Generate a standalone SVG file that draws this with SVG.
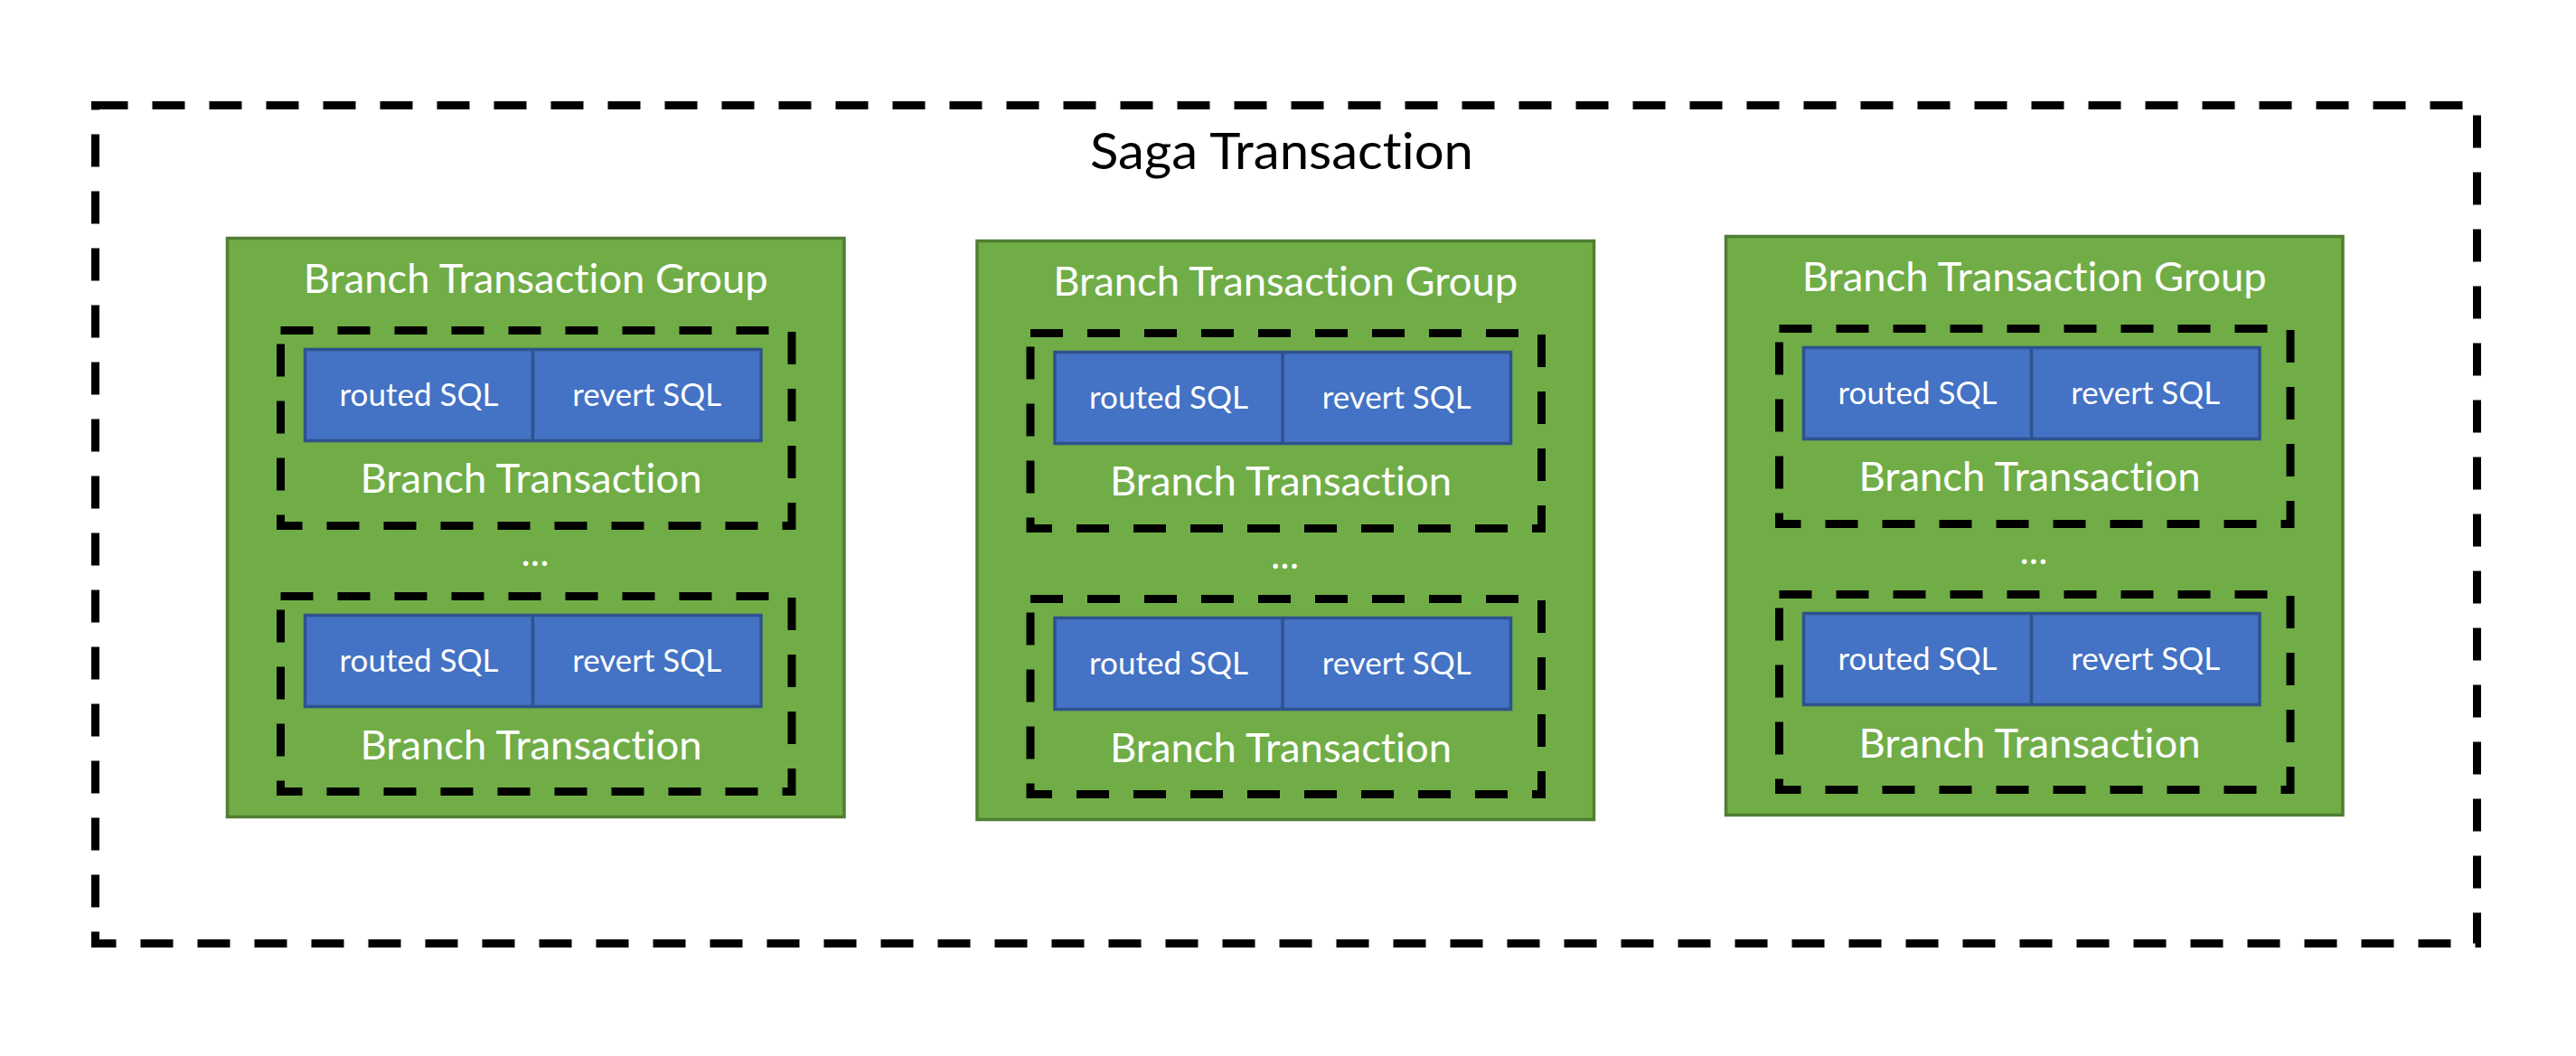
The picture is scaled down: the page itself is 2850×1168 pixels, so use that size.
<svg xmlns="http://www.w3.org/2000/svg" width="2850" height="1168" viewBox="0 0 2850 1168">
<style>
.bg{fill:#ffffff}
.outer{fill:none;stroke:#000;stroke-width:9;stroke-dasharray:36 27}
.grp{fill:#70AD47;stroke:#507E32;stroke-width:3.5}
.dash{fill:none;stroke:#000;stroke-width:9;stroke-dasharray:36 27}
.blue{fill:#4472C4;stroke:#2F528F;stroke-width:3.5}
.div{stroke:#2F528F;stroke-width:3.5}
text{font-variant-ligatures:none}
.w{fill:#fff;font-family:Lato,"Open Sans","Liberation Sans",sans-serif;text-anchor:middle}
.t48{font-size:44px}
.t38{font-size:35px}
.saga{fill:#000;font-family:Lato,"Open Sans","Liberation Sans",sans-serif;font-size:56px;text-anchor:middle}
</style>
<rect class="bg" x="0" y="0" width="2850" height="1168"/>
<g id="saga-transaction">
<rect class="outer" x="105.5" y="116.5" width="2635" height="927"/>
<text class="saga" x="1418" y="186.5" textLength="424" lengthAdjust="spacingAndGlyphs">Saga Transaction</text>
</g>
<g id="group-1">
<rect class="grp" x="251.5" y="263.5" width="682.5" height="640"/>
<text class="w t48" x="592.75" y="323.5" textLength="514" lengthAdjust="spacingAndGlyphs">Branch Transaction Group</text>
<g id="group-1-branch-1">
<rect class="dash" x="310.5" y="365.5" width="565.5" height="216"/>
<rect class="blue" x="337.5" y="386.5" width="504.5" height="101"/>
<line class="div" x1="589.5" y1="386.5" x2="589.5" y2="487.5"/>
<text class="w t38" x="463.5" y="449.3" textLength="176" lengthAdjust="spacingAndGlyphs">routed SQL</text>
<text class="w t38" x="715.7" y="449.3" textLength="165" lengthAdjust="spacingAndGlyphs">revert SQL</text>
<text class="w t48" x="587.5" y="545" textLength="378" lengthAdjust="spacingAndGlyphs">Branch Transaction</text>
</g>
<text class="w t48" x="592" y="626">...</text>
<g id="group-1-branch-2">
<rect class="dash" x="310.5" y="659.5" width="565.5" height="216"/>
<rect class="blue" x="337.5" y="680.5" width="504.5" height="101"/>
<line class="div" x1="589.5" y1="680.5" x2="589.5" y2="781.5"/>
<text class="w t38" x="463.5" y="743.3" textLength="176" lengthAdjust="spacingAndGlyphs">routed SQL</text>
<text class="w t38" x="715.7" y="743.3" textLength="165" lengthAdjust="spacingAndGlyphs">revert SQL</text>
<text class="w t48" x="587.5" y="839.5" textLength="378" lengthAdjust="spacingAndGlyphs">Branch Transaction</text>
</g>
</g>
<g id="group-2" transform="translate(829.5,3)">
<rect class="grp" x="251.5" y="263.5" width="682.5" height="640"/>
<text class="w t48" x="592.75" y="323.5" textLength="514" lengthAdjust="spacingAndGlyphs">Branch Transaction Group</text>
<g id="group-2-branch-1">
<rect class="dash" x="310.5" y="365.5" width="565.5" height="216"/>
<rect class="blue" x="337.5" y="386.5" width="504.5" height="101"/>
<line class="div" x1="589.5" y1="386.5" x2="589.5" y2="487.5"/>
<text class="w t38" x="463.5" y="449.3" textLength="176" lengthAdjust="spacingAndGlyphs">routed SQL</text>
<text class="w t38" x="715.7" y="449.3" textLength="165" lengthAdjust="spacingAndGlyphs">revert SQL</text>
<text class="w t48" x="587.5" y="545" textLength="378" lengthAdjust="spacingAndGlyphs">Branch Transaction</text>
</g>
<text class="w t48" x="592" y="626">...</text>
<g id="group-2-branch-2">
<rect class="dash" x="310.5" y="659.5" width="565.5" height="216"/>
<rect class="blue" x="337.5" y="680.5" width="504.5" height="101"/>
<line class="div" x1="589.5" y1="680.5" x2="589.5" y2="781.5"/>
<text class="w t38" x="463.5" y="743.3" textLength="176" lengthAdjust="spacingAndGlyphs">routed SQL</text>
<text class="w t38" x="715.7" y="743.3" textLength="165" lengthAdjust="spacingAndGlyphs">revert SQL</text>
<text class="w t48" x="587.5" y="839.5" textLength="378" lengthAdjust="spacingAndGlyphs">Branch Transaction</text>
</g>
</g>
<g id="group-3" transform="translate(1658,-2)">
<rect class="grp" x="251.5" y="263.5" width="682.5" height="640"/>
<text class="w t48" x="592.75" y="323.5" textLength="514" lengthAdjust="spacingAndGlyphs">Branch Transaction Group</text>
<g id="group-3-branch-1">
<rect class="dash" x="310.5" y="365.5" width="565.5" height="216"/>
<rect class="blue" x="337.5" y="386.5" width="504.5" height="101"/>
<line class="div" x1="589.5" y1="386.5" x2="589.5" y2="487.5"/>
<text class="w t38" x="463.5" y="449.3" textLength="176" lengthAdjust="spacingAndGlyphs">routed SQL</text>
<text class="w t38" x="715.7" y="449.3" textLength="165" lengthAdjust="spacingAndGlyphs">revert SQL</text>
<text class="w t48" x="587.5" y="545" textLength="378" lengthAdjust="spacingAndGlyphs">Branch Transaction</text>
</g>
<text class="w t48" x="592" y="626">...</text>
<g id="group-3-branch-2">
<rect class="dash" x="310.5" y="659.5" width="565.5" height="216"/>
<rect class="blue" x="337.5" y="680.5" width="504.5" height="101"/>
<line class="div" x1="589.5" y1="680.5" x2="589.5" y2="781.5"/>
<text class="w t38" x="463.5" y="743.3" textLength="176" lengthAdjust="spacingAndGlyphs">routed SQL</text>
<text class="w t38" x="715.7" y="743.3" textLength="165" lengthAdjust="spacingAndGlyphs">revert SQL</text>
<text class="w t48" x="587.5" y="839.5" textLength="378" lengthAdjust="spacingAndGlyphs">Branch Transaction</text>
</g>
</g>
<g id="connectors"/>
</svg>
